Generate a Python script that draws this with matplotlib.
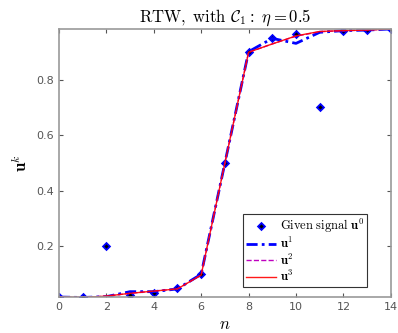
import matplotlib
matplotlib.use("Agg")
import matplotlib.pyplot as plt
import numpy as np

plt.rcParams['mathtext.fontset'] = 'cm'

n = np.arange(15)
u0 = [0.0166, 0.015, 0.20, 0.025, 0.031, 0.049, 0.099, 0.50, 0.902, 0.950, 0.967, 0.701, 0.978, 0.980, 0.984]
u1 = [0.0166, 0.015, 0.018, 0.036, 0.036, 0.046, 0.099, 0.50, 0.902, 0.950, 0.932, 0.972, 0.978, 0.980, 0.984]
u2 = [0.0166, 0.015, 0.020, 0.030, 0.038, 0.046, 0.096, 0.50, 0.900, 0.930, 0.958, 0.974, 0.978, 0.980, 0.984]
u3 = [0.0166, 0.015, 0.020, 0.030, 0.038, 0.046, 0.096, 0.50, 0.900, 0.930, 0.959, 0.975, 0.978, 0.980, 0.984]

fig = plt.figure(figsize=(3.98, 3.33), dpi=100)
ax = fig.add_axes([0.148, 0.108, 0.834, 0.805])

ax.plot(n, u0, linestyle='none', marker='D', markersize=3.5, mfc='k', mec='b', mew=1.3,
        label=r'$\mathrm{Given\ signal}\ \mathbf{u}^0$')
ax.plot(n, u1, color='b', linestyle=(0, (4, 1.5, 1, 1.5)), linewidth=2, label=r'$\mathbf{u}^1$')
ax.plot(n, u2, color='m', linestyle='--', linewidth=1, label=r'$\mathbf{u}^2$')
ax.plot(n, u3, color='r', linestyle='-', linewidth=1, alpha=0.9, label=r'$\mathbf{u}^3$')

ax.set_xlim(0, 14)
ax.set_ylim(0.0166, 0.984)
ax.set_xticks([0, 2, 4, 6, 8, 10, 12, 14])
ax.set_yticks([0.2, 0.4, 0.6, 0.8])
ax.tick_params(direction='in', top=True, right=True, labelsize=8, colors='#555555', length=3)
for s in ax.spines.values():
    s.set_color('#999999')
    s.set_linewidth(1.2)

ax.set_title(r'$\mathrm{RTW,\ with}\ \mathcal{C}_1\mathrm{:}\ \eta = 0.5$', fontsize=12, pad=5)
ax.set_xlabel(r'$n$', fontsize=12, labelpad=2)
ax.set_ylabel(r'$\mathbf{u}^k$', fontsize=12, labelpad=4)

leg = ax.legend(loc='lower left', bbox_to_anchor=(243/398, (333-287)/333), bbox_transform=fig.transFigure,
                fontsize=9, fancybox=False, edgecolor='#333333', framealpha=1,
                handlelength=2.4, handletextpad=0.3, borderpad=0.25, labelspacing=0.1, borderaxespad=0)
leg.get_frame().set_linewidth(0.8)

fig.savefig('out.png', dpi=100)
